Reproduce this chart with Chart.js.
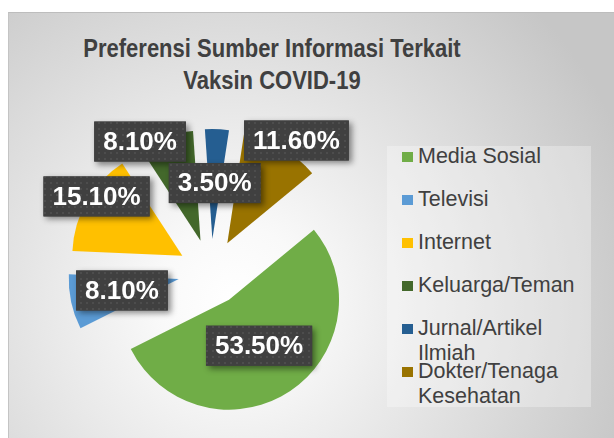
<!DOCTYPE html>
<html><head><meta charset="utf-8">
<script src="https://cdn.jsdelivr.net/npm/chart.js@4.4.0/dist/chart.umd.min.js"></script>
<style>
html,body{margin:0;padding:0;background:#fff;width:614px;height:438px;overflow:hidden;position:relative;}
#panel{position:absolute;left:8px;top:12px;width:606px;height:426px;box-sizing:border-box;
  background:radial-gradient(circle 420px at 225px 288px,#ffffff 0%,#f9f9f9 18%,#e2e2e2 55%,#c6c6c6 100%);
  border-top:1px solid #bdbdbd;border-left:1px solid #c4c4c4;}
#title{position:absolute;left:0;width:544px;top:32px;text-align:center;font:bold 25px "Liberation Sans",Arial,sans-serif;line-height:32px;color:#404040;transform:scaleX(0.88);transform-origin:272px 0;}
#legendBg{position:absolute;left:387px;top:146px;width:204px;height:261px;background:rgba(255,255,255,0.3);}
.li{position:absolute;left:402px;height:25px;}
.sw{position:absolute;left:0;top:8px;width:11px;height:10px;}
.tx{position:absolute;left:16px;top:0;width:180px;font:21.5px "Liberation Sans",Arial,sans-serif;line-height:25px;color:#404040;white-space:normal;}
canvas{position:absolute;left:0;top:0;}
</style></head><body>
<div id="panel"></div>
<div id="title"></div>
<div id="legendBg"></div>
<div id="legend"></div>
<canvas id="c" width="614" height="438"></canvas>
<script>
const titleLines = ['Preferensi Sumber Informasi Terkait', 'Vaksin COVID-19'];
const categories = ['Media Sosial', 'Televisi', 'Internet', 'Keluarga/Teman', 'Jurnal/Artikel Ilmiah', 'Dokter/Tenaga Kesehatan'];
const percentages = [53.5, 8.1, 15.1, 8.1, 3.5, 11.6];
const colors = ['#70AD47', '#5B9BD5', '#FFC000', '#43682B', '#255E91', '#997300'];

// label placement nudges (style, px) relative to the slice centre point
const labelNudges = [[0,0],[-3,0],[-38,-32],[-43,-47],[0,-1],[42,-55]];

document.getElementById('title').innerHTML = titleLines.join('<br>');

// legend (HTML, real text)
const legendEl = document.getElementById('legend');
categories.forEach((c, i) => {
  const d = document.createElement('div');
  d.className = 'li';
  d.style.top = (143.5 + i * 43) + 'px';
  d.innerHTML = '<div class="sw" style="background:' + colors[i] + '"></div><div class="tx">' + c + '</div>';
  legendEl.appendChild(d);
});

// dotted pattern for label boxes
const pc = document.createElement('canvas');
pc.width = 6; pc.height = 6;
const pctx = pc.getContext('2d');
pctx.fillStyle = '#404040'; pctx.fillRect(0,0,6,6);
pctx.fillStyle = '#4d4d4d'; pctx.fillRect(2,2,2,2);

const explodedPie = {
  id: 'explodedPie',
  beforeDatasetDraw(chart, args) {
    const ctx = chart.ctx;
    const meta = chart.getDatasetMeta(args.index);
    meta.data.forEach((arc, i) => {
      const o = arc.options;
      const half = (arc.startAngle + arc.endAngle) / 2;
      const d = o.offset || 0;
      const cx = arc.x + Math.cos(half) * d, cy = arc.y + Math.sin(half) * d;
      ctx.save();
      ctx.beginPath();
      ctx.moveTo(cx, cy);
      ctx.arc(cx, cy, arc.outerRadius, arc.startAngle, arc.endAngle);
      ctx.closePath();
      ctx.fillStyle = o.backgroundColor;
      ctx.fill();
      ctx.restore();
    });
    return false;
  },
  afterDatasetsDraw(chart) {
    const ctx = chart.ctx;
    const meta = chart.getDatasetMeta(0);
    const pattern = ctx.createPattern(pc, 'repeat');
    meta.data.forEach((arc, i) => {
      const half = (arc.startAngle + arc.endAngle) / 2;
      const d = (arc.options.offset || 0) + arc.outerRadius / 2;
      const x = arc.x + Math.cos(half) * d + labelNudges[i][0];
      const y = arc.y + Math.sin(half) * d + labelNudges[i][1];
      const text = percentages[i].toFixed(2) + '%';
      ctx.save();
      ctx.font = 'bold 26px "Liberation Sans", Arial, sans-serif';
      const w = ctx.measureText(text).width + 18;
      const h = 40;
      ctx.shadowColor = 'rgba(0,0,0,0.45)';
      ctx.shadowBlur = 6;
      ctx.shadowOffsetX = 3;
      ctx.shadowOffsetY = 3;
      ctx.fillStyle = '#404040';
      ctx.fillRect(x - w/2, y - h/2, w, h);
      ctx.shadowColor = 'transparent';
      ctx.fillStyle = pattern;
      ctx.fillRect(x - w/2, y - h/2, w, h);
      ctx.fillStyle = '#ffffff';
      ctx.textAlign = 'center';
      ctx.textBaseline = 'middle';
      ctx.fillText(text, x, y + 1);
      ctx.restore();
    });
  }
};

new Chart(document.getElementById('c'), {
  type: 'pie',
  data: {
    labels: categories,
    datasets: [{
      data: percentages,
      backgroundColor: colors,
      borderWidth: 0,
      offset: 33
    }]
  },
  options: {
    responsive: false,
    animation: false,
    rotation: 50.5,
    radius: 110,
    layout: { padding: { left: 0, right: 192, top: 106, bottom: 0 } },
    plugins: {
      legend: { display: false },
      title: { display: false },
      tooltip: { enabled: false }
    },
    events: []
  },
  plugins: [explodedPie]
});
</script>
</body></html>
